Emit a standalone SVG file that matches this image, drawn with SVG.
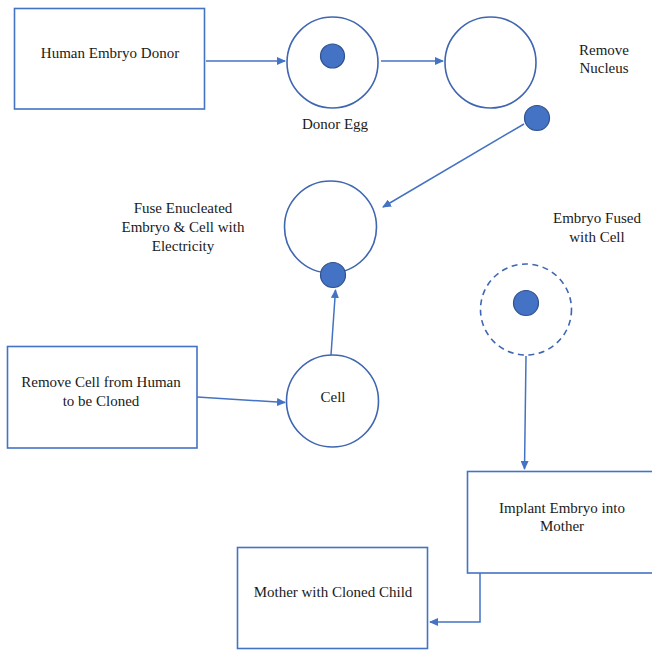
<svg xmlns="http://www.w3.org/2000/svg" width="652" height="650" viewBox="0 0 652 650">
<style>
.box{fill:#fff;stroke:#4472C4;stroke-width:1.6}
.cir{fill:#fff;stroke:#3F66B0;stroke-width:1.6}
.dash{fill:none;stroke:#3F66B0;stroke-width:1.6;stroke-dasharray:6 4.5}
.nuc{fill:#4472C4;stroke:#2F528F;stroke-width:1.2}
.con{fill:none;stroke:#4472C4;stroke-width:1.5;marker-end:url(#ah)}
.t{font-family:'Liberation Serif','Tinos','Times New Roman','DejaVu Serif',serif;font-size:15px;fill:#1a1a1a;text-anchor:middle}
</style>
<defs>
<marker id="ah" markerWidth="9" markerHeight="8" refX="8" refY="4" orient="auto" markerUnits="userSpaceOnUse">
<path d="M0,0 L9,4 L0,8 Z" fill="#4472C4"/>
</marker>
</defs>
<rect width="652" height="650" fill="#fff"/>
<g id="connectors">
<line class="con" x1="206" y1="61" x2="285" y2="61"/>
<line class="con" x1="381" y1="61" x2="443" y2="61"/>
<line class="con" x1="524" y1="124" x2="383" y2="207"/>
<line class="con" x1="331" y1="355" x2="335.5" y2="290"/>
<line class="con" x1="197" y1="397" x2="285" y2="402.5"/>
<line class="con" x1="526" y1="356" x2="524.5" y2="469"/>
<polyline class="con" points="480,573 480,622 430,622"/>
</g>
<g id="human-embryo-donor">
<rect class="box" x="14.5" y="8.5" width="190" height="100.5"/>
<text class="t" font-family="Liberation Serif, serif" x="110" y="58">Human Embryo Donor</text>
</g>
<g id="donor-egg">
<circle class="cir" cx="332.5" cy="62.5" r="45.5"/>
<circle class="nuc" cx="332.5" cy="56" r="12"/>
<text class="t" x="335" y="129">Donor Egg</text>
</g>
<g id="enucleated-egg">
<circle class="cir" cx="490.5" cy="62.5" r="45.5"/>
</g>
<g id="remove-nucleus">
<text class="t" x="604" y="55">Remove</text>
<text class="t" x="604" y="73">Nucleus</text>
<circle class="nuc" cx="537" cy="118" r="12.5"/>
</g>
<g id="fuse">
<circle class="cir" cx="330.5" cy="227" r="46"/>
<circle class="nuc" cx="333" cy="275" r="12.5"/>
<text class="t" x="183" y="213">Fuse Enucleated</text>
<text class="t" x="183" y="232">Embryo &amp; Cell with</text>
<text class="t" x="183" y="250.5">Electricity</text>
</g>
<g id="embryo-fused">
<text class="t" x="597" y="223">Embryo Fused</text>
<text class="t" x="597" y="242">with Cell</text>
<circle class="dash" cx="526" cy="309.5" r="45.5"/>
<circle class="nuc" cx="526" cy="303" r="12.5"/>
</g>
<g id="remove-cell">
<rect class="box" x="7.5" y="346.5" width="189.5" height="101.5"/>
<text class="t" x="101" y="387">Remove Cell from Human</text>
<text class="t" x="101" y="406">to be Cloned</text>
</g>
<g id="cell">
<circle class="cir" cx="332.5" cy="401" r="46"/>
<text class="t" x="333" y="402">Cell</text>
</g>
<g id="implant">
<rect class="box" x="467.5" y="471.5" width="190" height="101.5"/>
<text class="t" x="562" y="513">Implant Embryo into</text>
<text class="t" x="562" y="531">Mother</text>
</g>
<g id="mother">
<rect class="box" x="237.5" y="547.5" width="190" height="101"/>
<text class="t" x="333" y="597">Mother with Cloned Child</text>
</g>
</svg>
